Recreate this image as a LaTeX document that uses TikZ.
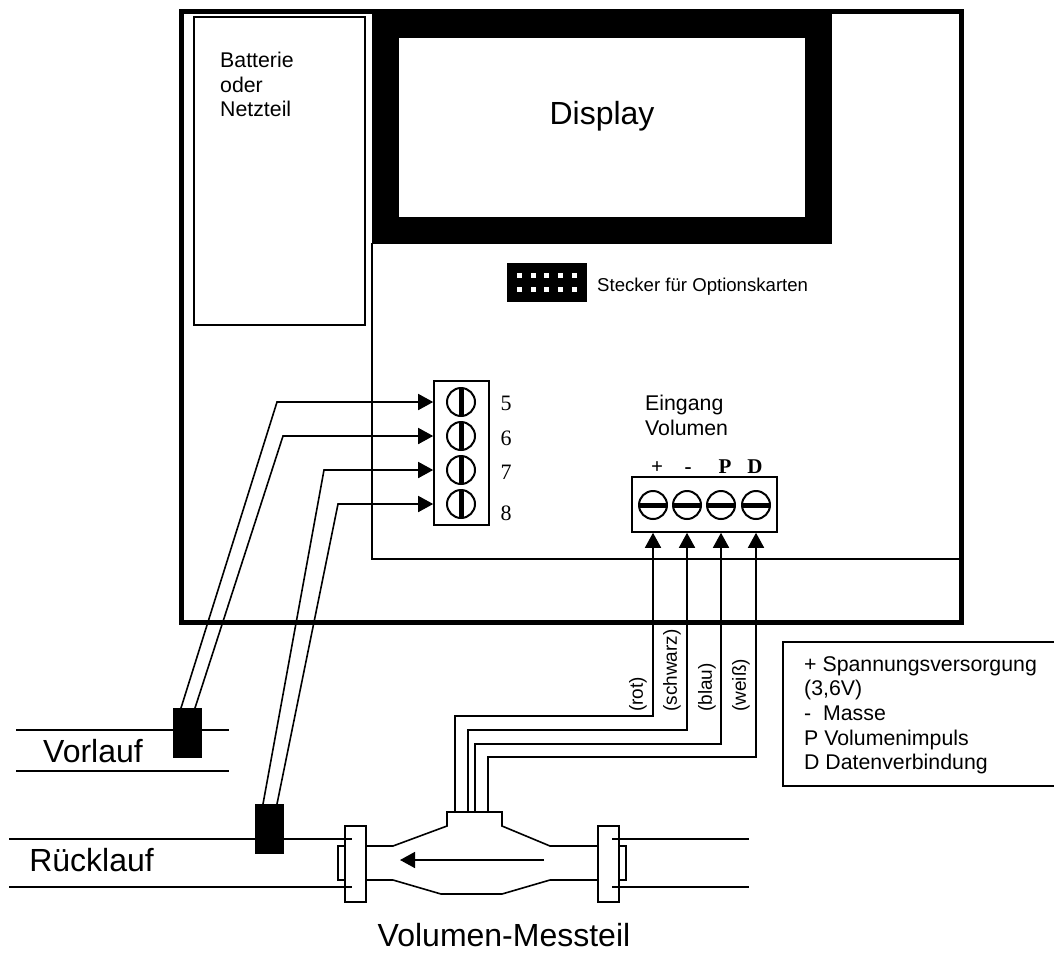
\documentclass[tikz,border=0pt]{standalone}
\usepackage{fontspec}
\setmainfont{Liberation Sans}
\newfontfamily\numfont{Liberation Serif}
\usetikzlibrary{arrows.meta}
\tikzset{
  wire/.style={line width=1.6pt},
  wirearrow/.style={wire,-{Triangle[length=15pt,width=16pt]}},
  pipeline/.style={line width=1.6pt},
  sensor/.style={fill=black,draw=none,minimum width=29pt,minimum height=50pt,inner sep=0pt},
  screw/.style={circle,draw,line width=2pt,fill=white,minimum size=28pt,inner sep=0pt},
  textleft/.style={align=left,inner sep=0pt,anchor=north west},
  bigtext/.style={inner sep=0pt,font=\fontsize{32}{36}\selectfont},
  midtext/.style={font=\fontsize{21.3}{24.6}\selectfont},
}
\begin{document}
\begin{tikzpicture}[x=1pt,y=-1pt]
  \useasboundingbox (0,0) rectangle (1054,953);
  \fill[white] (0,0) rectangle (1054,953);
  % housing
  \draw[line width=5pt] (181,11) rectangle (961,622);
  \draw[line width=1.6pt] (372,243) -- (372,559) -- (960,559);
  \node[draw,line width=2pt,minimum width=171pt,minimum height=308pt,inner sep=0pt] (akku) at (279.5,171) {};
  \node[textleft,midtext] (akkutext) at (220,52) {Batterie\\oder\\Netzteil};
  % display
  \fill (372,9) rectangle (832,244);
  \node[fill=white,minimum width=406pt,minimum height=179pt,inner sep=0pt] (display) at (602,127.5) {};
  \node[bigtext] (displaytext) at (602,116) {Display};
  % option plug
  \node[fill=black,minimum width=80pt,minimum height=39pt,inner sep=0pt] (plug) at (547,282.5) {};
  \foreach \x in {519,533,546,560,574}
    \foreach \y in {275,289}
      \fill[white] (\x-2.5,\y-2.5) rectangle (\x+2.5,\y+2.5);
  \node[anchor=west,inner sep=0pt,font=\fontsize{18.6}{22}\selectfont] (plugtext) at (597,287) {Stecker für Optionskarten};
  % terminal 5 to 8
  \node[draw,line width=1.6pt,minimum width=55pt,minimum height=144pt,inner sep=0pt] (blockA) at (461.5,453) {};
  \foreach \n/\y/\ty in {5/402/403,6/436/438,7/470/472,8/504/513} {
    \node[screw] (s\n) at (461,\y) {};
    \fill (458.5,\y-14) rectangle (463.5,\y+14);
    \node[font=\fontsize{22}{26}\numfont] (n\n) at (506,\ty) {\n};
  }
  % terminal input
  \node[draw,line width=1.6pt,minimum width=145pt,minimum height=55pt,inner sep=0pt] (blockB) at (704.5,504.5) {};
  \foreach \n/\x/\lx/\t in {a/653/657/+,b/687/688/-,c/721/725/P,d/756/755/D} {
    \node[screw] (t\n) at (\x,505) {};
    \fill (\x-14,502.5) rectangle (\x+14,507.5);
    \node[anchor=base,inner sep=0pt,font=\fontsize{21}{24}\numfont\bfseries] (l\n) at (\lx,473) {\t};
  }
  \node[textleft,midtext] (eingang) at (645,395) {Eingang\\Volumen};
  % pipes
  \draw[pipeline] (16,730) -- (229,730);
  \draw[pipeline] (16,771) -- (229,771);
  \draw[pipeline] (9,839) -- (352,839);
  \draw[pipeline] (9,887) -- (352,887);
  \draw[pipeline] (612,839) -- (749,839);
  \draw[pipeline] (612,887) -- (749,887);
  \node[bigtext] (vorlauf) at (93,751) {Vorlauf};
  \node[bigtext] (ruecklauf) at (91.5,860) {Rücklauf};
  % sensors
  \node[sensor] (vor) at (187.5,733) {};
  \node[sensor] (rueck) at (269.5,829) {};
  \coordinate (va) at (181,708);
  \coordinate (vb) at (195,708);
  \coordinate (ra) at (263,804);
  \coordinate (rb) at (277,804);
  \draw[wirearrow] (va) -- (277,402) -- (s5 -| blockA.west);
  \draw[wirearrow] (vb) -- (283,436) -- (s6 -| blockA.west);
  \draw[wirearrow] (ra) -- (324,470) -- (s7 -| blockA.west);
  \draw[wirearrow] (rb) -- (338,504) -- (s8 -| blockA.west);
  % meter
  \draw[pipeline] (345,846) -- (338,846) -- (338,880) -- (345,880);
  \draw[pipeline] (619,846) -- (626,846) -- (626,880) -- (619,880);
  \node[draw,line width=2pt,minimum width=21pt,minimum height=76pt,inner sep=0pt] (flangeL) at (355.5,864) {};
  \node[draw,line width=2pt,minimum width=21pt,minimum height=76pt,inner sep=0pt] (flangeR) at (608.5,864) {};
  \draw[pipeline] (366,846) -- (393,846) -- (447,826) -- (447,812) -- (502,812) -- (502,826) -- (550,846) -- (598,846);
  \draw[pipeline] (366,880) -- (393,880) -- (441,894) -- (502,894) -- (550,880) -- (598,880);
  \coordinate (flowa) at (544,860);
  \coordinate (flowb) at (400,860);
  \draw[wirearrow] (flowa) -- (flowb);
  \coordinate (wa) at (455,812);
  \coordinate (wb) at (468,812);
  \coordinate (wc) at (475,812);
  \coordinate (wd) at (488,812);
  \draw[wirearrow] (wa) -- (455,716) -- (653,716) -- (ta |- blockB.south);
  \draw[wirearrow] (wb) -- (468,730) -- (687,730) -- (tb |- blockB.south);
  \draw[wirearrow] (wc) -- (475,744) -- (721,744) -- (tc |- blockB.south);
  \draw[wirearrow] (wd) -- (488,757) -- (756,757) -- (td |- blockB.south);
  \foreach \x/\t in {638/(rot),672/(schwarz),707/(blau),741/(weiß)}
    \node[rotate=90,anchor=west,inner sep=0pt,font=\fontsize{19}{22}\selectfont] (w\x) at (\x,712) {\t};
  \node[bigtext] (messteil) at (504,935) {Volumen-Messteil};
  % legend
  \draw[line width=1.6pt] (1054,642) -- (783,642) -- (783,786) -- (1054,786);
  \node[textleft,font=\fontsize{21.3}{24.7}\selectfont] (legende) at (804,656) {+ Spannungsversorgung\\(3,6V)\\-\ \ Masse\\P Volumenimpuls\\D Datenverbindung};
\end{tikzpicture}
\end{document}
